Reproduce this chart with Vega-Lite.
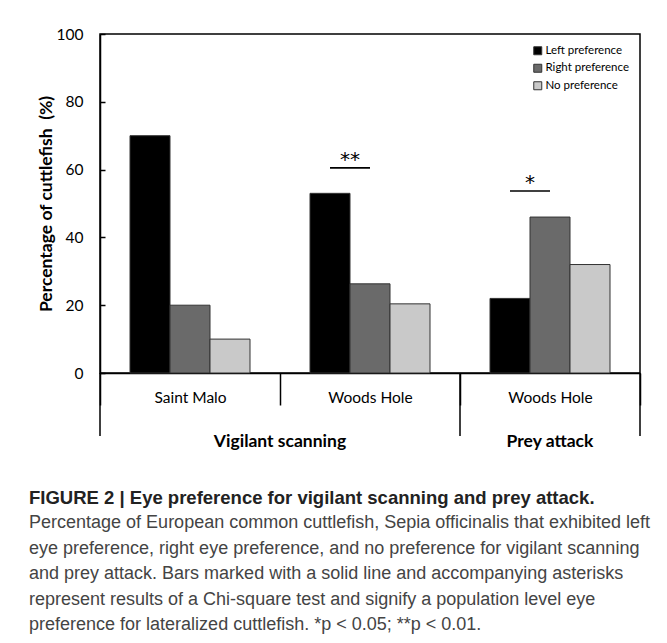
{
  "$schema": "https://vega.github.io/schema/vega-lite/v6.json",
  "autosize": {"type": "none"},
  "padding": {"left": 100, "top": 34, "right": 27, "bottom": 270},
  "width": 540,
  "height": 339,
  "background": "white",
  "config": {
    "view": {"stroke": "#000", "strokeWidth": 1.5},
    "font": "Lato"
  },
  "title": {
    "text": "FIGURE 2 | Eye preference for vigilant scanning and prey attack.",
    "subtitle": [
      "Percentage of European common cuttlefish, Sepia officinalis that exhibited left",
      "eye preference, right eye preference, and no preference for vigilant scanning",
      "and prey attack. Bars marked with a solid line and accompanying asterisks",
      "represent results of a Chi-square test and signify a population level eye",
      "preference for lateralized cuttlefish. *p < 0.05; **p < 0.01."
    ],
    "orient": "bottom",
    "anchor": "start",
    "frame": "bounds",
    "font": "Liberation Sans",
    "fontSize": 18.5,
    "fontWeight": "bold",
    "color": "#222",
    "subtitleFont": "Liberation Sans",
    "subtitleFontSize": 18,
    "subtitleColor": "#444",
    "subtitleLineHeight": 25.5,
    "subtitlePadding": 7,
    "offset": 38,
    "dx": -8
  },
  "datasets": {
    "bars": [
      {"site": "Saint Malo (VS)", "pref": "Left preference", "pct": 70},
      {"site": "Saint Malo (VS)", "pref": "Right preference", "pct": 20},
      {"site": "Saint Malo (VS)", "pref": "No preference", "pct": 10},
      {"site": "Woods Hole (VS)", "pref": "Left preference", "pct": 53},
      {"site": "Woods Hole (VS)", "pref": "Right preference", "pct": 26.3},
      {"site": "Woods Hole (VS)", "pref": "No preference", "pct": 20.4},
      {"site": "Woods Hole (PA)", "pref": "Left preference", "pct": 22},
      {"site": "Woods Hole (PA)", "pref": "Right preference", "pct": 46},
      {"site": "Woods Hole (PA)", "pref": "No preference", "pct": 32}
    ],
    "sig": [
      {"site": "Woods Hole (VS)", "stars": "**", "level": 60.5},
      {"site": "Woods Hole (PA)", "stars": "*", "level": 53.7}
    ],
    "one": [{}]
  },
  "layer": [
    {
      "data": {"name": "bars"},
      "mark": {"type": "bar", "stroke": "#333", "strokeWidth": 1},
      "encoding": {
        "x": {
          "field": "site", "type": "nominal",
          "scale": {"domain": ["Saint Malo (VS)", "Woods Hole (VS)", "Woods Hole (PA)"], "paddingInner": 0, "paddingOuter": 0},
          "axis": {
            "title": null,
            "labelAngle": 0,
            "labelExpr": "replace(datum.label, / \\(.*\\)/, '')",
            "labelFont": "Lato", "labelFontSize": 15.5, "labelColor": "#000",
            "tickBand": "extent", "tickSize": 32, "tickColor": "#000", "tickWidth": 1.5,
            "labelPadding": -15,
            "domainColor": "#000", "domainWidth": 1.5
          }
        },
        "xOffset": {
          "field": "pref", "type": "nominal",
          "scale": {"domain": ["Left preference", "Right preference", "No preference"], "paddingInner": 0, "paddingOuter": 0.75}
        },
        "y": {
          "field": "pct", "type": "quantitative",
          "scale": {"domain": [0, 100], "nice": false},
          "axis": {
            "title": "Percentage of cuttlefish\u00a0 (%)",
            "titleFont": "Lato", "titleFontSize": 17.5, "titleFontWeight": "bold", "titleColor": "#000",
            "titlePadding": 1,
            "values": [0, 20, 40, 60, 80, 100],
            "grid": false,
            "labelFont": "Lato", "labelFontSize": 15.5, "labelColor": "#000",
            "tickSize": -5, "tickColor": "#000", "tickWidth": 1.5,
            "labelPadding": 22,
            "domainColor": "#000", "domainWidth": 1.5
          }
        },
        "fill": {
          "field": "pref", "type": "nominal",
          "scale": {"domain": ["Left preference", "Right preference", "No preference"], "range": ["#000000", "#6a6a6a", "#c9c9c9"]},
          "legend": {
            "title": null,
            "orient": "top-right",
            "offset": 11,
            "padding": 0,
            "symbolType": "square",
            "symbolSize": 64,
            "symbolStrokeColor": "#333",
            "symbolStrokeWidth": 1,
            "labelFont": "Lato", "labelFontSize": 11.5, "labelColor": "#000",
            "rowPadding": 4.5,
            "symbolOffset": 0,
            "labelOffset": 2
          }
        }
      }
    },
    {
      "data": {"name": "sig"},
      "mark": {"type": "tick", "size": 40, "thickness": 1.6, "color": "#000", "xOffset": -20, "opacity": 1},
      "encoding": {
        "x": {"field": "site", "type": "nominal"},
        "y": {"field": "level", "type": "quantitative"}
      }
    },
    {
      "data": {"name": "sig"},
      "mark": {"type": "text", "font": "DejaVu Sans", "fontSize": 20, "color": "#000", "xOffset": -20, "dy": -2, "baseline": "alphabetic"},
      "encoding": {
        "x": {"field": "site", "type": "nominal"},
        "y": {"field": "level", "type": "quantitative"},
        "text": {"field": "stars"}
      }
    },
    {
      "data": {"name": "one"},
      "mark": {"type": "rule", "color": "#000", "strokeWidth": 1.5},
      "encoding": {
        "x": {"datum": "Saint Malo (VS)", "bandPosition": 0},
        "y": {"datum": 0},
        "y2": {"datum": -18.6}
      }
    },
    {
      "data": {"name": "one"},
      "mark": {"type": "rule", "color": "#000", "strokeWidth": 1.5},
      "encoding": {
        "x": {"datum": "Woods Hole (PA)", "bandPosition": 0},
        "y": {"datum": 0},
        "y2": {"datum": -18.6}
      }
    },
    {
      "data": {"name": "one"},
      "mark": {"type": "rule", "color": "#000", "strokeWidth": 1.5},
      "encoding": {
        "x": {"datum": "Woods Hole (PA)", "bandPosition": 1},
        "y": {"datum": 0},
        "y2": {"datum": -18.6}
      }
    },
    {
      "data": {"name": "one"},
      "mark": {"type": "text", "font": "Lato", "fontSize": 17.5, "fontWeight": "bold", "color": "#000", "baseline": "middle"},
      "encoding": {
        "x": {"datum": "Woods Hole (VS)", "bandPosition": 0},
        "y": {"datum": -20.4},
        "text": {"value": "Vigilant scanning"}
      }
    },
    {
      "data": {"name": "one"},
      "mark": {"type": "text", "font": "Lato", "fontSize": 17.5, "fontWeight": "bold", "color": "#000", "baseline": "middle"},
      "encoding": {
        "x": {"datum": "Woods Hole (PA)", "bandPosition": 0.5},
        "y": {"datum": -20.4},
        "text": {"value": "Prey attack"}
      }
    }
  ]
}
